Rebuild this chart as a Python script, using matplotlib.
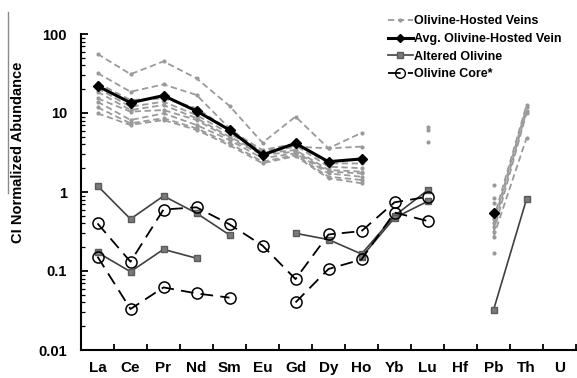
import numpy as np
import matplotlib
matplotlib.use("Agg")
import matplotlib.pyplot as plt
from matplotlib.lines import Line2D
from matplotlib.ticker import FixedLocator, LogLocator, NullFormatter

plt.rcParams['font.family'] = ['Liberation Sans', 'DejaVu Sans']
plt.rcParams['font.weight'] = 'bold'

elements = ["La", "Ce", "Pr", "Nd", "Sm", "Eu", "Gd", "Dy", "Ho", "Yb", "Lu", "Hf", "Pb", "Th", "U"]
nan = np.nan

# olivine-hosted veins (La..Ho, Lu, Pb, Th)
vein_ree = [
    [56, 31, 45, 27.5, 12.3, 4.2, 9.0, 3.57, 5.6],
    [32, 18.6, 23, 16.9, 6.4, 3.1, 3.75, 3.57, 3.75],
    [24, 14.6, 15.3, 11.5, 6.1, 3.4, 4.1, 2.3, 2.3],
    [20.6, 12.0, 13.9, 9.4, 5.5, 3.25, 3.9, 2.09, 2.0],
    [18.6, 10.9, 12.6, 8.6, 5.0, 3.09, 3.4, 1.9, 1.81],
    [15.3, 10.4, 10.9, 8.15, 4.8, 2.94, 3.25, 1.81, 1.72],
    [13.9, 8.15, 9.9, 7.05, 4.55, 2.67, 3.09, 1.72, 1.56],
    [11.8, 7.4, 8.6, 6.4, 4.13, 2.42, 2.94, 1.56, 1.42],
    [9.9, 7.05, 8.15, 6.1, 3.9, 2.31, 2.85, 1.49, 1.29],
]
vein_lu = [6.6, 6.1, 4.3, nan, nan, nan, nan, nan, nan]
vein_pb = [1.23, 0.83, 0.73, 0.45, 0.40, 0.36, 0.31, 0.27, 0.17]
vein_th = [nan, nan, nan, 12.6, 11.8, 10.5, 9.9, 4.8, nan]

avg_vein = [22, 13.5, 16.6, 10.6, 6.1, 2.94, 4.13, 2.42, 2.62, nan, nan, nan, 0.54, nan, nan]

altered = [
    [1.2, 0.455, 0.89, 0.54, 0.286, nan, 0.30, 0.25, 0.164, 0.50, 1.05, nan, nan, nan, nan],
    [0.172, 0.098, 0.188, 0.145, nan, nan, nan, nan, 0.15, 0.47, 0.76, nan, nan, nan, nan],
    [nan, nan, nan, nan, nan, nan, nan, nan, nan, nan, nan, nan, 0.032, 0.81, nan],
]

core = [
    [0.40, 0.131, 0.60, 0.64, 0.39, 0.21, 0.079, 0.29, 0.32, 0.74, 0.87, nan, nan, nan, nan],
    [0.152, 0.033, 0.062, 0.052, 0.046, nan, 0.040, 0.106, 0.14, 0.55, 0.43, nan, nan, nan, nan],
]

x = np.arange(len(elements))

fig = plt.figure(figsize=(5.77, 3.78), dpi=100)
ax = fig.add_axes([81/577, 28/378, 495/577, 316/378])

vein_style = dict(color='#9a9a9a', linestyle=(0, (3.5, 2)), linewidth=1.3,
                  marker='o', markersize=3, markeredgewidth=0)
for i in range(len(vein_ree)):
    row = vein_ree[i] + [nan, vein_lu[i], nan, vein_pb[i], vein_th[i], nan]
    ax.plot(x, row, zorder=2, **vein_style)

for row in altered:
    ax.plot(x, row, color='#404040', linewidth=1.2, marker='s', markersize=5,
            markerfacecolor='#7a7a7a', markeredgecolor='#5a5a5a', zorder=3)

for row in core:
    ax.plot(x, row, color='black', linestyle=(0, (7, 4)), linewidth=1.3,
            marker='o', markersize=8, markerfacecolor='none',
            markeredgecolor='black', markeredgewidth=1.1, zorder=4)

ax.plot(x, avg_vein, color='black', linewidth=2.2, marker='D', markersize=5.5, zorder=5)

ax.set_yscale('log')
ax.set_ylim(0.01, 100)
ax.set_xlim(-0.5, len(elements) - 0.5)

ax.yaxis.set_major_locator(FixedLocator([0.01, 0.1, 1, 10, 100]))
ax.set_yticklabels(['0.01', '0.1', '1', '10', '100'])
ax.yaxis.set_minor_locator(LogLocator(base=10, subs=np.arange(2, 10)))
ax.yaxis.set_minor_formatter(NullFormatter())

ax.set_xticks(np.arange(-0.5, len(elements), 1.0))
ax.set_xticklabels([])
ax.set_xticks(x, minor=True)
ax.set_xticklabels(elements, minor=True, fontsize=11, fontweight='bold')
ax.tick_params(axis='x', which='minor', length=0, pad=8)
ax.tick_params(axis='x', which='major', direction='in', length=4, width=1.3)
ax.tick_params(axis='y', which='major', direction='in', length=5, width=1.3,
               labelsize=10.5, pad=10)
ax.tick_params(axis='y', which='minor', direction='in', length=3, width=0.9)

for s in ['top', 'right']:
    ax.spines[s].set_visible(False)
for s in ['left', 'bottom']:
    ax.spines[s].set_linewidth(1.5)

ax.set_ylabel('CI Normalized Abundance', fontsize=10.5, fontweight='bold')
ax.yaxis.set_label_coords(-0.113, 0.627)

handles = [
    Line2D([], [], **vein_style),
    Line2D([], [], color='black', linewidth=2.2, marker='D', markersize=4),
    Line2D([], [], color='#404040', linewidth=1.2, marker='s', markersize=4,
           markerfacecolor='#7a7a7a', markeredgecolor='#5a5a5a'),
    Line2D([], [], color='black', linestyle=(0, (7, 4)), linewidth=1.3, marker='o',
           markersize=7, markerfacecolor='none', markeredgecolor='black'),
]
labels = ['Olivine-Hosted Veins', 'Avg. Olivine-Hosted Vein', 'Altered Olivine', 'Olivine Core*']
ax.legend(handles, labels, loc='upper left', bbox_to_anchor=(0.61, 1.075),
          frameon=False, fontsize=9, handlelength=2.0, handletextpad=0.1,
          labelspacing=0.45, borderaxespad=0)

fig.add_artist(Line2D([8/577, 8/577], [1 - 12/378, 1 - 193/378], color='#8a8a8a', linewidth=1))

fig.savefig('out.png', dpi=100)
